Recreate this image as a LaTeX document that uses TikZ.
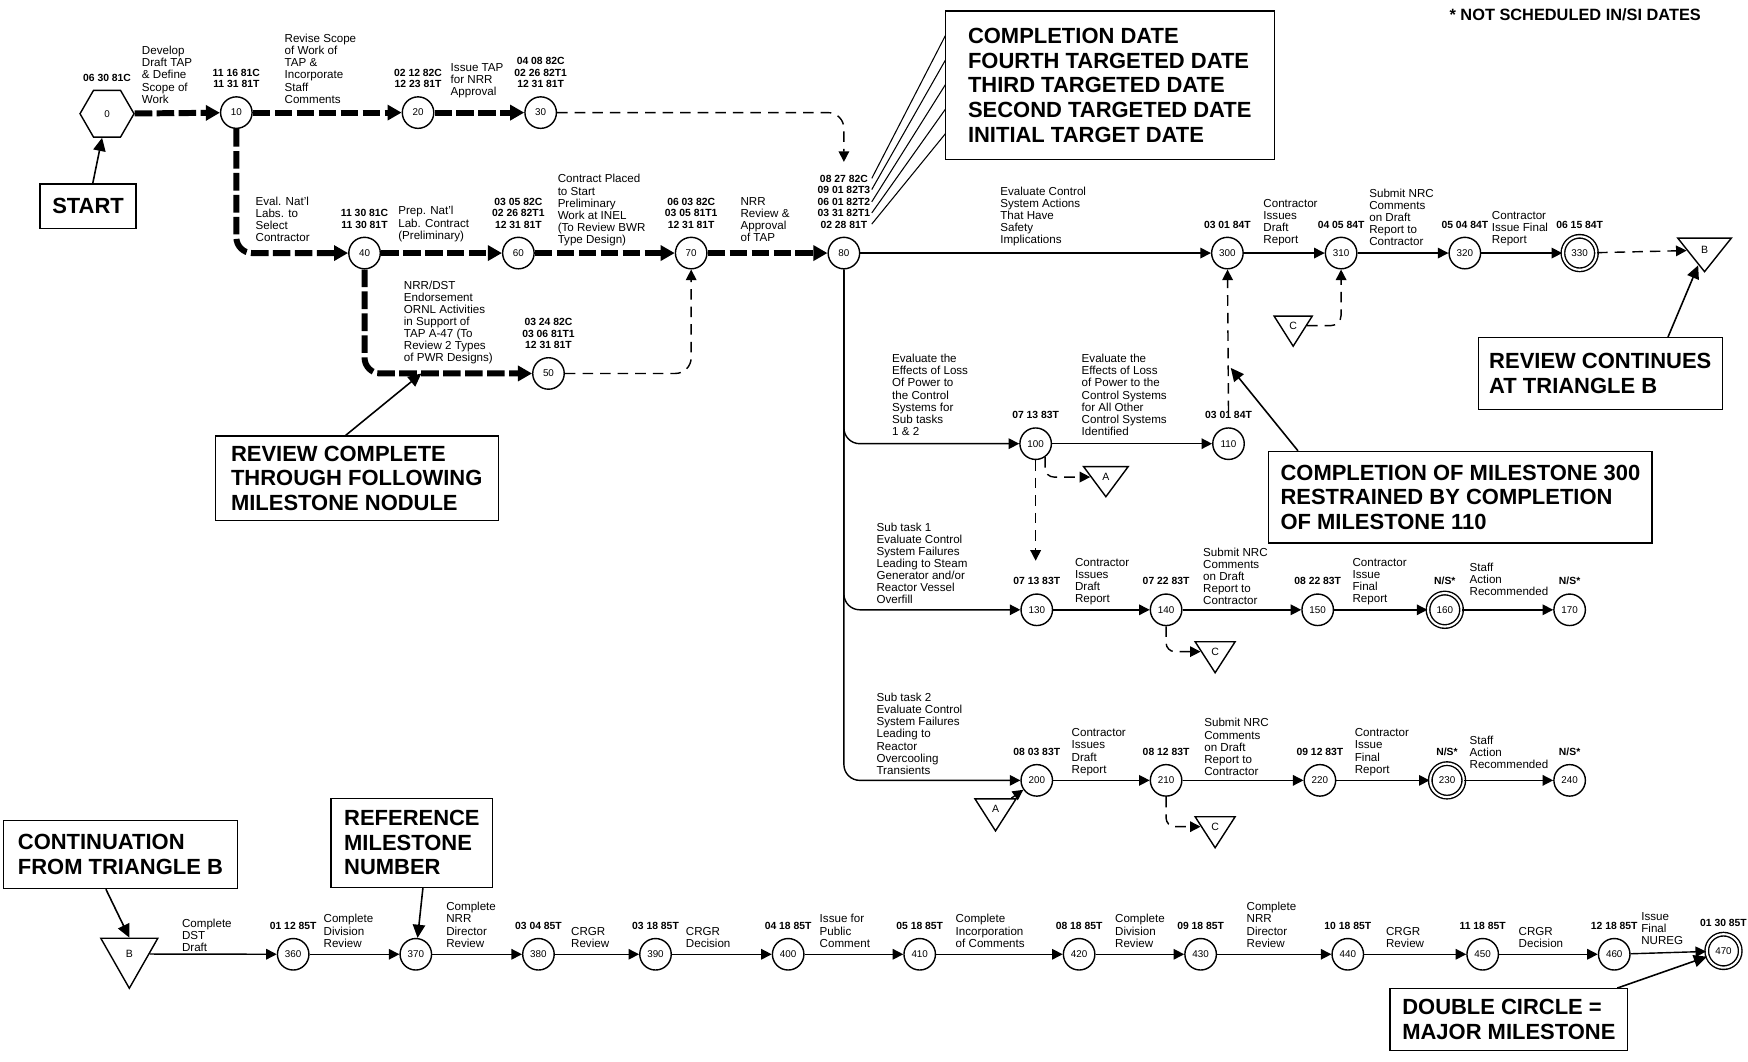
\documentclass[tikz,border=0pt]{standalone}
\usepackage{fontspec}
\setmainfont{Liberation Sans}
\usetikzlibrary{shapes.geometric,arrows.meta,positioning}

\begin{document}
\begin{tikzpicture}[x=0.22296mm,y=-0.22296mm,
  ms/.style={draw,circle,line width=0.8pt,minimum size=6.3mm,inner sep=0pt,font=\fontsize{5.6}{6}\selectfont},
  major/.style={ms,double,double distance=1.2pt,minimum size=6.7mm},
  tri/.style={draw,isosceles triangle,isosceles triangle stretches,shape border rotate=270,line width=0.8pt,inner sep=0pt,anchor=north,font=\fontsize{6}{6}\selectfont},
  task/.style={align=left,inner sep=0pt,anchor=south west,font=\fontsize{6.6}{6.9}\selectfont},
  dates/.style={align=center,inner sep=0pt,font=\bfseries\fontsize{5.9}{6.5}\selectfont},
  callbox/.style={draw,line width=0.8pt,align=left,inner sep=0pt,font=\bfseries\fontsize{12.5}{14}\selectfont},
  crit/.style={line width=3.4pt,dash pattern=on 10pt off 2.5pt,-{Triangle[length=8pt,width=8.5pt]}},
  flow/.style={line width=0.8pt,-{Triangle[length=6pt,width=6pt]}},
  dep/.style={flow,dash pattern=on 6pt off 4pt},
  pointer/.style={line width=0.9pt,-{Triangle[length=7.5pt,width=7pt]}}
]
\useasboundingbox (0,0) rectangle (1568,952);

% milestones, first phase
\node[ms,regular polygon,regular polygon sides=6,minimum size=10.8mm] (n0) at (96,102) {0};
\node[ms] (n10) at (212,101) {10};
\node[ms] (n20) at (375,101) {20};
\node[ms] (n30) at (485,101) {30};
\node[ms] (n40) at (327,227) {40};
\node[ms] (n50) at (492,335) {50};
\node[ms] (n60) at (465,227) {60};
\node[ms] (n70) at (620,227) {70};
\node[ms] (n80) at (757,227) {80};
% milestones, second phase
\node[ms] (n300) at (1101,227) {300};
\node[ms] (n310) at (1203,227) {310};
\node[ms] (n320) at (1314,227) {320};
\node[major] (n330) at (1417,227) {330};
\node[tri,minimum width=10.7mm,minimum height=6.7mm] (triB1) at (1529,213) {B};
\node[tri,minimum width=7.6mm,minimum height=6mm] (triC1) at (1160,283) {C};
\node[ms] (n100) at (929,398) {100};
\node[ms] (n110) at (1102,398) {110};
\node[tri,minimum width=8.9mm,minimum height=6mm] (triA1) at (992,418) {A};
\node[ms] (n130) at (930,547) {130};
\node[ms] (n140) at (1046,547) {140};
\node[ms] (n150) at (1182,547) {150};
\node[major] (n160) at (1296,547) {160};
\node[ms] (n170) at (1408,547) {170};
\node[tri,minimum width=8mm,minimum height=6.2mm] (triC2) at (1090,575) {C};
\node[ms] (n200) at (930,700) {200};
\node[ms] (n210) at (1046,700) {210};
\node[ms] (n220) at (1184,700) {220};
\node[major] (n230) at (1298,700) {230};
\node[ms] (n240) at (1408,700) {240};
\node[tri,minimum width=8.2mm,minimum height=6.4mm] (triA2) at (893,716) {A};
\node[tri,minimum width=8mm,minimum height=6.2mm] (triC3) at (1090,732) {C};
% milestones, continuation row
\node[tri,minimum width=11.4mm,minimum height=10mm] (triB2) at (116,841) {B};
\node[ms] (n360) at (263,856) {360};
\node[ms] (n370) at (373,856) {370};
\node[ms] (n380) at (483,856) {380};
\node[ms] (n390) at (588,856) {390};
\node[ms] (n400) at (707,856) {400};
\node[ms] (n410) at (825,856) {410};
\node[ms] (n420) at (968,856) {420};
\node[ms] (n430) at (1077,856) {430};
\node[ms] (n440) at (1209,856) {440};
\node[ms] (n450) at (1330,856) {450};
\node[ms] (n460) at (1448,856) {460};
\node[major] (n470) at (1546,853) {470};

% dates
\node[dates,above=1.6mm of n0] (d0) {06 30 81C};
\node[dates,above=1.6mm of n10] (d10) {11 16 81C\\11 31 81T};
\node[dates,above=1.6mm of n20] (d20) {02 12 82C\\12 23 81T};
\node[dates,above=1.6mm of n30] (d30) {04 08 82C\\02 26 82T1\\12 31 81T};
\node[dates,above=1.6mm of n40] (d40) {11 30 81C\\11 30 81T};
\node[dates,above=1.6mm of n60] (d60) {03 05 82C\\02 26 82T1\\12 31 81T};
\node[dates,above=1.6mm of n70] (d70) {06 03 82C\\03 05 81T1\\12 31 81T};
\node[dates,above=1.6mm of n80] (d80) {08 27 82C\\09 01 82T3\\06 01 82T2\\03 31 82T1\\02 28 81T};
\node[dates,above=1.6mm of n50] (d50) {03 24 82C\\03 06 81T1\\12 31 81T};
\node[dates,above=1.6mm of n300] (d300) {03 01 84T};
\node[dates,above=1.6mm of n310] (d310) {04 05 84T};
\node[dates,above=1.6mm of n320] (d320) {05 04 84T};
\node[dates,above=1.4mm of n330] (d330) {06 15 84T};
\node[dates,above=1.6mm of n100] (d100) {07 13 83T};
\node[dates,above=1.6mm of n110] (d110) {03 01 84T};
\node[dates,above=1.6mm of n130] (d130) {07 13 83T};
\node[dates,above=1.6mm of n140] (d140) {07 22 83T};
\node[dates,above=1.6mm of n150] (d150) {08 22 83T};
\node[dates,above=1.4mm of n160] (d160) {N/S*};
\node[dates,above=1.6mm of n170] (d170) {N/S*};
\node[dates,above=1.6mm of n200] (d200) {08 03 83T};
\node[dates,above=1.6mm of n210] (d210) {08 12 83T};
\node[dates,above=1.6mm of n220] (d220) {09 12 83T};
\node[dates,above=1.4mm of n230] (d230) {N/S*};
\node[dates,above=1.6mm of n240] (d240) {N/S*};
\node[dates,above=1.6mm of n360] (d360) {01 12 85T};
\node[dates,above=1.6mm of n380] (d380) {03 04 85T};
\node[dates,above=1.6mm of n390] (d390) {03 18 85T};
\node[dates,above=1.6mm of n400] (d400) {04 18 85T};
\node[dates,above=1.6mm of n410] (d410) {05 18 85T};
\node[dates,above=1.6mm of n420] (d420) {08 18 85T};
\node[dates,above=1.6mm of n430] (d430) {09 18 85T};
\node[dates,above=1.6mm of n440] (d440) {10 18 85T};
\node[dates,above=1.6mm of n450] (d450) {11 18 85T};
\node[dates,above=1.6mm of n460] (d460) {12 18 85T};
\node[dates,above=1.4mm of n470] (d470) {01 30 85T};

% activities
\node[task] (t0) at (127,93) {Develop\\Draft TAP\\\& Define\\Scope of\\Work};
\node[task] (t10) at (255,93) {Revise Scope\\of Work of\\TAP \&\\Incorporate\\Staff\\Comments};
\node[task] (t20) at (404,88) {Issue TAP\\for NRR\\Approval};
\node[task] (t10b) at (229,217) {Eval. Nat'l\\Labs. to\\Select\\Contractor};
\node[task] (t40) at (357,217) {Prep. Nat'l\\Lab. Contract\\(Preliminary)};
\node[task] (t60) at (500,221) {Contract Placed\\to Start\\Preliminary\\Work at INEL\\(To Review BWR\\Type Design)};
\node[task] (t70) at (664,217) {NRR\\Review \&\\Approval\\of TAP};
\node[task] (t40b) at (362,327) {NRR/DST\\Endorsement\\ORNL Activities\\in Support of\\TAP A-47 (To\\Review 2 Types\\of PWR Designs)};
\node[task] (t80) at (897,221) {Evaluate Control\\System Actions\\That Have\\Safety\\Implications};
\node[task] (t300) at (1133,221) {Contractor\\Issues\\Draft\\Report};
\node[task] (t310) at (1228,221) {Submit NRC\\Comments\\on Draft\\Report to\\Contractor};
\node[task] (t320) at (1338,221) {Contractor\\Issue Final\\Report};
\node[task] (t80b) at (800,391) {Evaluate the\\Effects of Loss\\Of Power to\\the Control\\Systems for\\Sub tasks\\1 \& 2};
\node[task] (t100) at (970,391) {Evaluate the\\Effects of Loss\\of Power to the\\Control Systems\\for All Other\\Control Systems\\Identified};
\node[task] (t80c) at (786,542) {Sub task 1\\Evaluate Control\\System Failures\\Leading to Steam\\Generator and/or\\Reactor Vessel\\Overfill};
\node[task] (t130) at (964,543) {Contractor\\Issues\\Draft\\Report};
\node[task] (t140) at (1079,543) {Submit NRC\\Comments\\on Draft\\Report to\\Contractor};
\node[task] (t150) at (1213,543) {Contractor\\Issue\\Final\\Report};
\node[task] (t160) at (1318,535) {Staff\\Action\\Recommended};
\node[task] (t80d) at (786,695) {Sub task 2\\Evaluate Control\\System Failures\\Leading to\\Reactor\\Overcooling\\Transients};
\node[task] (t200) at (961,696) {Contractor\\Issues\\Draft\\Report};
\node[task] (t210) at (1080,696) {Submit NRC\\Comments\\on Draft\\Report to\\Contractor};
\node[task] (t220) at (1215,696) {Contractor\\Issue\\Final\\Report};
\node[task] (t230) at (1318,690) {Staff\\Action\\Recommended};
\node[task] (tB) at (163,854) {Complete\\DST\\Draft};
\node[task] (t360) at (290,850) {Complete\\Division\\Review};
\node[task] (t370) at (400,850) {Complete\\NRR\\Director\\Review};
\node[task] (t380) at (512,850) {CRGR\\Review};
\node[task] (t390) at (615,850) {CRGR\\Decision};
\node[task] (t400) at (735,850) {Issue for\\Public\\Comment};
\node[task] (t410) at (857,850) {Complete\\Incorporation\\of Comments};
\node[task] (t420) at (1000,850) {Complete\\Division\\Review};
\node[task] (t430) at (1118,850) {Complete\\NRR\\Director\\Review};
\node[task] (t440) at (1243,850) {CRGR\\Review};
\node[task] (t450) at (1362,850) {CRGR\\Decision};
\node[task] (t460) at (1472,848) {Issue\\Final\\NUREG};

% callouts
\node[callbox,minimum width=65.8mm,minimum height=29.7mm] (cdate) at (995.5,76.5) {COMPLETION DATE\\FOURTH TARGETED DATE\\THIRD TARGETED DATE\\SECOND TARGETED DATE\\INITIAL TARGET DATE};
\node[callbox,minimum width=19.2mm,minimum height=8.9mm] (start) at (79,185) {START};
\node[callbox,minimum width=56.6mm,minimum height=16.9mm] (revcomp) at (320,429) {REVIEW COMPLETE\\THROUGH FOLLOWING\\MILESTONE NODULE};
\node[callbox,minimum width=48.8mm,minimum height=14.3mm] (revcont) at (1435.5,335) {REVIEW CONTINUES\\AT TRIANGLE B};
\node[callbox,minimum width=76.7mm,minimum height=18.3mm] (restr) at (1310,446) {COMPLETION OF MILESTONE 300\\RESTRAINED BY COMPLETION\\OF MILESTONE 110};
\node[callbox,minimum width=46.8mm,minimum height=13.6mm] (contB) at (108,766.5) {CONTINUATION\\FROM TRIANGLE B};
\node[callbox,minimum width=32.3mm,minimum height=17.8mm] (refms) at (369.5,756) {REFERENCE\\MILESTONE\\NUMBER};
\node[callbox,minimum width=47.5mm,minimum height=12.3mm] (dblc) at (1353.5,914.5) {DOUBLE CIRCLE =\\MAJOR MILESTONE};
\node[inner sep=0pt,anchor=west,font=\bfseries\fontsize{9.3}{10}\selectfont] (note) at (1300,13) {* NOT SCHEDULED IN/SI DATES};

% free ends
\coordinate (c130in) at (929,503);
\coordinate (c4050) at (378,335);
\coordinate (c110300) at (1104,330);
\foreach \i/\yd/\yb in {1/160/32,2/170/54,3/181/76,4/191/98,5/201/120}{
  \coordinate (dl\i) at (782,\yd);
  \coordinate (cb\i) at (848,\yb);
}

% critical path
\draw[crit] (n0) -- (n10);
\draw[crit] (n10) -- (n20);
\draw[crit] (n20) -- (n30);
\draw[crit,rounded corners=9pt] (n10) |- (n40);
\draw[crit] (n40) -- (n60);
\draw[crit] (n60) -- (n70);
\draw[crit] (n70) -- (n80);
\draw[crit,rounded corners=9pt] (n40) |- (n50);
\draw[dep,rounded corners=9pt,shorten >=2.6mm] (n30) -| (d80);
\draw[dep,rounded corners=9pt] (n50) -| (n70);

% second phase
\draw[flow] (n80) -- (n300);
\draw[flow] (n300) -- (n310);
\draw[flow] (n310) -- (n320);
\draw[flow] (n320) -- (n330);
\draw[dep] (n330) -- (triB1);
\draw[dep,rounded corners=6pt] (triC1) -| (n310);
\draw[flow,rounded corners=9pt] (n80) |- (n100);
\draw[flow,rounded corners=9pt] (n80) |- (n130);
\draw[flow,rounded corners=9pt] (n80) |- (n200);
\draw[flow] (n100) -- (n110);
\draw[dep] (d110) -- (n300);
\draw[dep,rounded corners=5pt] (n100.-55) |- (triA1);
\draw[dep] (n100) -- (c130in);
\draw[flow] (n130) -- (n140);
\draw[flow] (n140) -- (n150);
\draw[flow] (n150) -- (n160);
\draw[flow] (n160) -- (n170);
\draw[dep,rounded corners=5pt] (n140) |- (triC2);
\draw[flow] (n200) -- (n210);
\draw[flow] (n210) -- (n220);
\draw[flow] (n220) -- (n230);
\draw[flow] (n230) -- (n240);
\draw[dep] (triA2) -- (n200);
\draw[dep,rounded corners=5pt] (n210) |- (triC3);

% continuation row
\draw[flow] (triB2) -- (n360);
\draw[flow] (n360) -- (n370);
\draw[flow] (n370) -- (n380);
\draw[flow] (n380) -- (n390);
\draw[flow] (n390) -- (n400);
\draw[flow] (n400) -- (n410);
\draw[flow] (n410) -- (n420);
\draw[flow] (n420) -- (n430);
\draw[flow] (n430) -- (n440);
\draw[flow] (n440) -- (n450);
\draw[flow] (n450) -- (n460);
\draw[flow] (n460) -- (n470);

% callout pointers
\draw[pointer] (start) -- (n0);
\draw[pointer] ([xshift=-2.2mm]revcomp.north) -- (c4050);
\draw[pointer] ([xshift=-11mm]revcont.north east) -- (triB1);
\draw[pointer] ([xshift=6mm]restr.north west) -- (c110300);
\draw[pointer] ([xshift=-2.9mm]contB.south) -- (triB2.north);
\draw[pointer] ([xshift=2.2mm]refms.south) -- (n370);
\draw[pointer] ([xshift=-2.2mm]dblc.north east) -- (n470);
\foreach \i in {1,...,5}
  \draw[line width=0.6pt] (dl\i) -- (cb\i);
\end{tikzpicture}
\end{document}
